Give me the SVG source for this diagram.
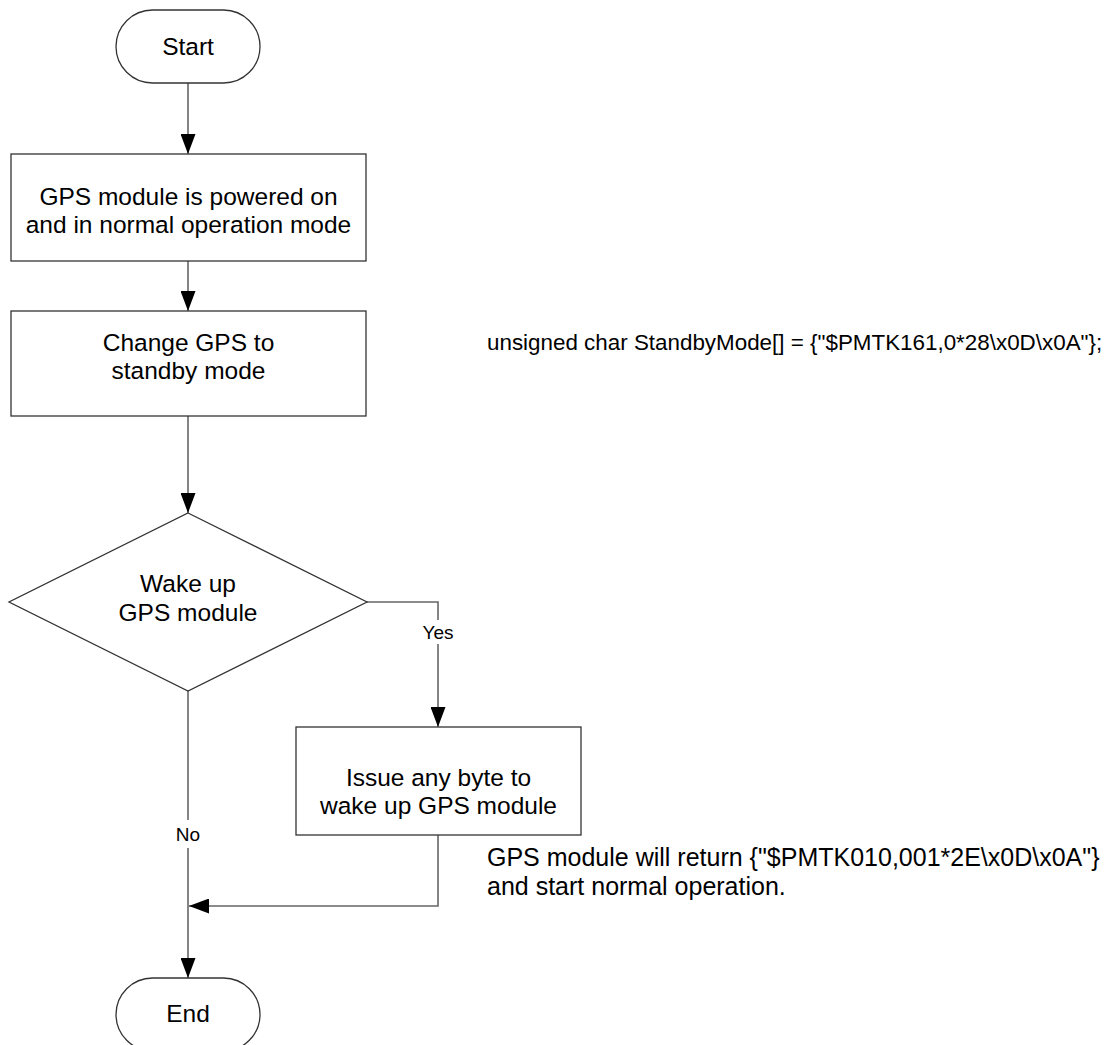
<svg xmlns="http://www.w3.org/2000/svg" width="1117" height="1045" viewBox="0 0 1117 1045">
<defs>
<style>
.shape{fill:#fff;stroke:#333;stroke-width:1.3}
.conn{fill:none;stroke:#666;stroke-width:1.6}
.t{font-family:"Liberation Sans",Arial,sans-serif;font-size:24.5px;fill:#000;text-anchor:middle}
.side{font-family:"Liberation Sans",Arial,sans-serif;font-size:25px;fill:#000}
.lbl{font-family:"Liberation Sans",Arial,sans-serif;font-size:19px;fill:#000;text-anchor:middle}
</style>
<marker id="ah" markerUnits="userSpaceOnUse" markerWidth="20" markerHeight="15" refX="20" refY="7.5" orient="auto">
<path d="M0,0 L20,7.5 L0,15 z" fill="#000"/>
</marker>
</defs>
<rect width="1117" height="1045" fill="#fff"/>
<g id="connectors">
<line class="conn" x1="188" y1="83" x2="188" y2="154" marker-end="url(#ah)"/>
<line class="conn" x1="188" y1="261" x2="188" y2="311" marker-end="url(#ah)"/>
<line class="conn" x1="188" y1="416" x2="188" y2="513" marker-end="url(#ah)"/>
<polyline class="conn" points="367,602 438,602 438,727" marker-end="url(#ah)"/>
<polyline class="conn" points="438,835 438,906 189,906" marker-end="url(#ah)"/>
<line class="conn" x1="188" y1="691" x2="188" y2="978" marker-end="url(#ah)"/>
<rect x="418" y="620" width="40" height="24" fill="#fff"/>
<text class="lbl" x="438" y="639">Yes</text>
<rect x="172" y="820" width="32" height="28" fill="#fff"/>
<text class="lbl" x="188" y="841">No</text>
</g>
<g id="start">
<rect class="shape" x="116" y="10" width="144" height="73" rx="36.5" ry="36.5"/>
<text class="t" x="188" y="55">Start</text>
</g>
<g id="powered">
<rect class="shape" x="11" y="154" width="355" height="107"/>
<text class="t" x="188.5" y="205">GPS module is powered on</text>
<text class="t" x="188.5" y="233">and in normal operation mode</text>
</g>
<g id="standby">
<rect class="shape" x="11" y="311" width="355" height="105"/>
<text class="t" x="188.5" y="351">Change GPS to</text>
<text class="t" x="188.5" y="379">standby mode</text>
</g>
<g id="wake">
<polygon class="shape" points="188,513 367,602 188,691 9,602"/>
<text class="t" x="188" y="592">Wake up</text>
<text class="t" x="188" y="621">GPS module</text>
</g>
<g id="issue">
<rect class="shape" x="296" y="727" width="285" height="108"/>
<text class="t" x="438.5" y="786">Issue any byte to</text>
<text class="t" x="438.5" y="814">wake up GPS module</text>
</g>
<g id="end">
<rect class="shape" x="116" y="978" width="144" height="73" rx="36.5" ry="36.5"/>
<text class="t" x="188" y="1022">End</text>
</g>
<g id="note-standby">
<text class="side" x="487" y="350" style="font-size:22.4px">unsigned char StandbyMode[] = {"$PMTK161,0*28\x0D\x0A"};</text>
</g>
<g id="note-return">
<text class="side" x="487" y="866">GPS module will return {"$PMTK010,001*2E\x0D\x0A"}</text>
<text class="side" x="487" y="895">and start normal operation.</text>
</g>
</svg>
